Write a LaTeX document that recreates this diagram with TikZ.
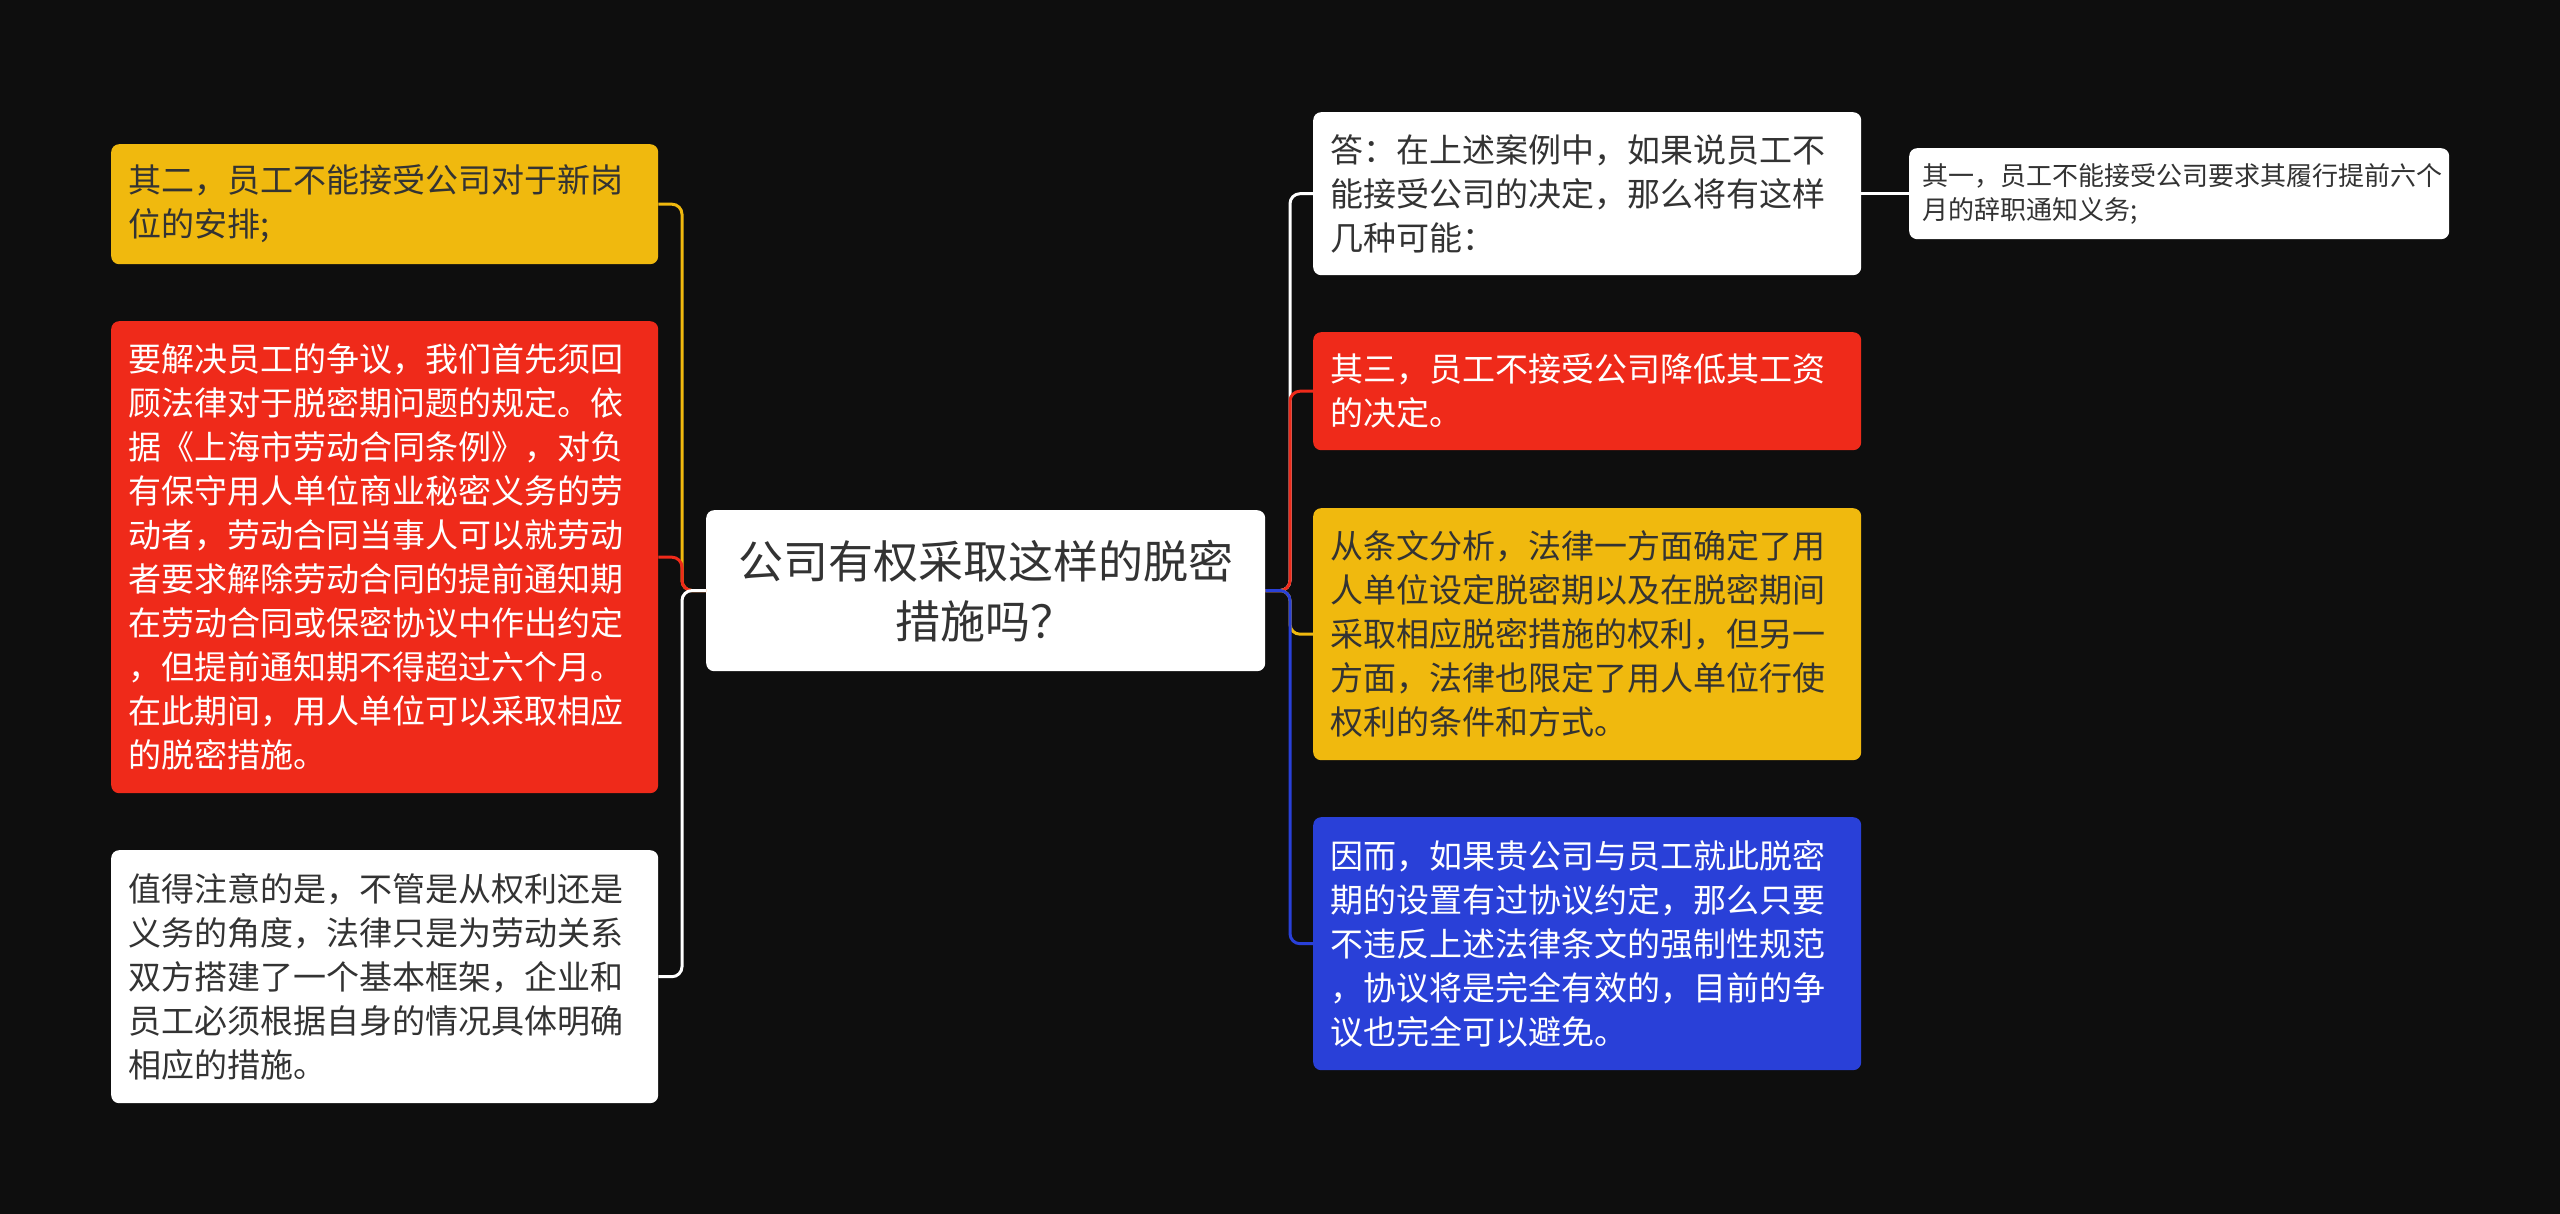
\documentclass[tikz,border=0pt]{standalone}
\usepackage{fontspec}
\setmainfont{Noto Sans CJK SC}
\definecolor{bg}{HTML}{0E0E0E}
\definecolor{cyel}{HTML}{F0B90E}
\definecolor{cred}{HTML}{EF2A1A}
\definecolor{cblue}{HTML}{2940D8}
\definecolor{cwhite}{HTML}{FFFFFF}
\definecolor{ctext}{HTML}{333333}
\begin{document}
\begin{tikzpicture}[x=1pt,y=-1pt,
  box/.style={rounded corners=8pt, inner xsep=17pt, inner ysep=0pt, anchor=north west,
    align=left, font=\fontsize{33}{44}\selectfont},
  wbox/.style={box, fill=cwhite, text=ctext},
  ybox/.style={box, fill=cyel, text=ctext},
  rbox/.style={box, fill=cred, text=white},
  bbox/.style={box, fill=cblue, text=white},
  link/.style={line width=3pt, rounded corners=10pt},
]
\fill[bg] (0,0) rectangle (2560,1214);
\useasboundingbox (0,0) rectangle (2560,1214);

% central
\node[box, fill=cwhite, text=ctext, align=center, inner xsep=0pt, text width=559pt, minimum height=161pt,
  font=\fontsize{45}{60}\selectfont] (c) at (706,510) {公司有权采取这样的脱密\\措施吗？};

% left
\node[ybox, text width=513pt, minimum height=120pt] (ly) at (111,144)
  {其二，员工不能接受公司对于新岗\\位的安排;};
\node[rbox, text width=513pt, minimum height=472pt] (lr) at (111,321)
  {要解决员工的争议，我们首先须回\\顾法律对于脱密期问题的规定。依\\据《上海市劳动合同条例》，对负\\有保守用人单位商业秘密义务的劳\\动者，劳动合同当事人可以就劳动\\者要求解除劳动合同的提前通知期\\在劳动合同或保密协议中作出约定\\，但提前通知期不得超过六个月。\\在此期间，用人单位可以采取相应\\的脱密措施。};
\node[wbox, text width=513pt, minimum height=253pt] (lw) at (111,850)
  {值得注意的是，不管是从权利还是\\义务的角度，法律只是为劳动关系\\双方搭建了一个基本框架，企业和\\员工必须根据自身的情况具体明确\\相应的措施。};

% right
\node[wbox, text width=514pt, minimum height=163pt] (rw) at (1313,112)
  {答：在上述案例中，如果说员工不\\能接受公司的决定，那么将有这样\\几种可能：};
\node[rbox, text width=514pt, minimum height=118pt] (rr) at (1313,332)
  {其三，员工不接受公司降低其工资\\的决定。};
\node[ybox, text width=514pt, minimum height=252pt] (ry) at (1313,508)
  {从条文分析，法律一方面确定了用\\人单位设定脱密期以及在脱密期间\\采取相应脱密措施的权利，但另一\\方面，法律也限定了用人单位行使\\权利的条件和方式。};
\node[bbox, text width=514pt, minimum height=253pt] (rb) at (1313,817)
  {因而，如果贵公司与员工就此脱密\\期的设置有过协议约定，那么只要\\不违反上述法律条文的强制性规范\\，协议将是完全有效的，目前的争\\议也完全可以避免。};

% far right
\node[wbox, inner xsep=13pt, text width=514pt, minimum height=91pt,
  font=\fontsize{26}{34}\selectfont] (fr) at (1909,148)
  {其一，员工不能接受公司要求其履行提前六个\\月的辞职通知义务;};

% junctions
\coordinate (lj) at (682,590.5);
\coordinate (rj) at (1290,590.5);

% left connectors
\draw[link, cyel] (ly.east) -| (lj) -- (c.west);
\draw[link, cred] (lr.east) -| (lj) -- (c.west);
\draw[link, cwhite] (lw.east) -| (lj) -- (c.west);

% right connectors
\draw[link, cwhite] (rw.west) -| (rj) -- (c.east);
\draw[link, cred] (rr.west) -| (rj) -- (c.east);
\draw[link, cyel] (ry.west) -| (rj) -- (c.east);
\draw[link, cblue] (rb.west) -| (rj) -- (c.east);

% far right connector
\draw[link, cwhite] (rw.east) -- (fr.west);
\end{tikzpicture}
\end{document}
